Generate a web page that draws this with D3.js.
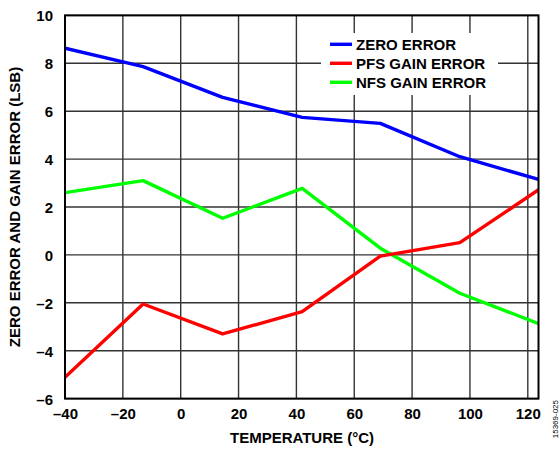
<!DOCTYPE html>
<html>
<head>
<meta charset="utf-8">
<script src="https://cdn.jsdelivr.net/npm/d3@7"></script>
<style>
  html, body { margin: 0; padding: 0; background: #fff; }
  svg { display: block; }
  text { font-family: "Liberation Sans", Arial, sans-serif; font-weight: bold; fill: #000; }
</style>
</head>
<body>
<script>
// Temperature sweep points (°C)
const temperatures = [-40, -13, 14.5, 42, 69, 96.5, 124];
// Error values in LSB at each temperature
const zeroError = [8.63, 7.86, 6.58, 5.74, 5.49, 4.10, 3.14];
const pfsGainError = [-5.11, -2.05, -3.30, -2.37, -0.05, 0.51, 2.74];
const nfsGainError = [2.60, 3.10, 1.53, 2.78, 0.28, -1.60, -2.88];
const seriesNames = ["ZERO ERROR", "PFS GAIN ERROR", "NFS GAIN ERROR"];
const seriesColors = ["#0000ff", "#ff0000", "#00ff00"];
const xTicks = [-40, -20, 0, 20, 40, 60, 80, 100, 120];
const yTicks = [-6, -4, -2, 0, 2, 4, 6, 8, 10];

const W = 560, H = 450;
const plot = { left: 65, top: 15.4, right: 538.5, bottom: 398.6 };

const svg = d3.select("body").append("svg").attr("width", W).attr("height", H);

const x = d3.scaleLinear().domain([-40, 123.7]).range([plot.left, plot.right]);
const y = d3.scaleLinear().domain([-6, 10]).range([plot.bottom, plot.top]);

// Grid
const grid = svg.append("g");
grid.selectAll("line.v").data(xTicks).join("line")
  .attr("x1", d => x(d)).attr("x2", d => x(d))
  .attr("y1", plot.top).attr("y2", plot.bottom)
  .attr("stroke", "#333").attr("stroke-width", 1.4);
grid.selectAll("line.h").data(yTicks).join("line")
  .attr("x1", plot.left).attr("x2", plot.right)
  .attr("y1", d => y(d)).attr("y2", d => y(d))
  .attr("stroke", "#333").attr("stroke-width", 1.4);

// Legend background box hides the grid behind it
svg.append("rect").attr("x", 321).attr("y", 33).attr("width", 177).attr("height", 62).attr("fill", "#fff");

// Data lines
svg.append("clipPath").attr("id", "plotclip").append("rect")
  .attr("x", plot.left).attr("y", plot.top)
  .attr("width", plot.right - plot.left).attr("height", plot.bottom - plot.top);

const seriesValues = [zeroError, pfsGainError, nfsGainError];
const line = d3.line().x(d => x(d[0])).y(d => y(d[1]));
const lines = svg.append("g").attr("clip-path", "url(#plotclip)");
// draw NFS first, then PFS, then ZERO on top
[2, 1, 0].forEach(i => {
  lines.append("path")
    .datum(temperatures.map((t, k) => [t, seriesValues[i][k]]))
    .attr("d", line)
    .attr("fill", "none")
    .attr("stroke", seriesColors[i])
    .attr("stroke-width", 3.4)
    .attr("stroke-linejoin", "round");
});

// Plot border
svg.append("rect")
  .attr("x", plot.left).attr("y", plot.top)
  .attr("width", plot.right - plot.left).attr("height", plot.bottom - plot.top)
  .attr("fill", "none").attr("stroke", "#000").attr("stroke-width", 2);

// Axes tick labels
const fmt = d => d < 0 ? "\u2013" + Math.abs(d) : String(d);
const xAxis = d3.axisBottom(x).tickValues(xTicks).tickSize(0).tickPadding(0).tickFormat(fmt);
const gx = svg.append("g").attr("transform", `translate(0,${plot.bottom})`).call(xAxis);
gx.select(".domain").remove();
gx.selectAll("text").attr("y", 20).attr("dy", 0).attr("font-size", 15)
  .style("font-family", '"Liberation Sans", Arial, sans-serif').style("font-weight", "bold");

const yAxis = d3.axisLeft(y).tickValues(yTicks).tickSize(0).tickPadding(0).tickFormat(fmt);
const gy = svg.append("g").attr("transform", `translate(${plot.left},0)`).call(yAxis);
gy.select(".domain").remove();
gy.selectAll("text").attr("x", -12).attr("dy", "0.36em").attr("font-size", 15)
  .style("font-family", '"Liberation Sans", Arial, sans-serif').style("font-weight", "bold");

// Axis titles
svg.append("text").attr("x", 302).attr("y", 443).attr("text-anchor", "middle")
  .attr("font-size", 15).text("TEMPERATURE (°C)");
svg.append("text").attr("transform", `translate(20,${(plot.top + plot.bottom) / 2}) rotate(-90)`)
  .attr("text-anchor", "middle").attr("font-size", 15)
  .text("ZERO ERROR AND GAIN ERROR (LSB)");

// Legend
const legend = svg.append("g");
seriesNames.forEach((name, i) => {
  const ly = 44.3 + i * 19;
  legend.append("line").attr("x1", 330).attr("x2", 352).attr("y1", ly).attr("y2", ly)
    .attr("stroke", seriesColors[i]).attr("stroke-width", 3.4);
  legend.append("text").attr("x", 356).attr("y", ly).attr("dy", "0.36em")
    .attr("font-size", 15).text(name);
});

// Figure number
svg.append("text").attr("transform", "translate(558,400) rotate(-90)")
  .attr("text-anchor", "end").attr("font-size", 8).style("font-weight", "normal")
  .text("15369-025");
</script>
</body>
</html>
